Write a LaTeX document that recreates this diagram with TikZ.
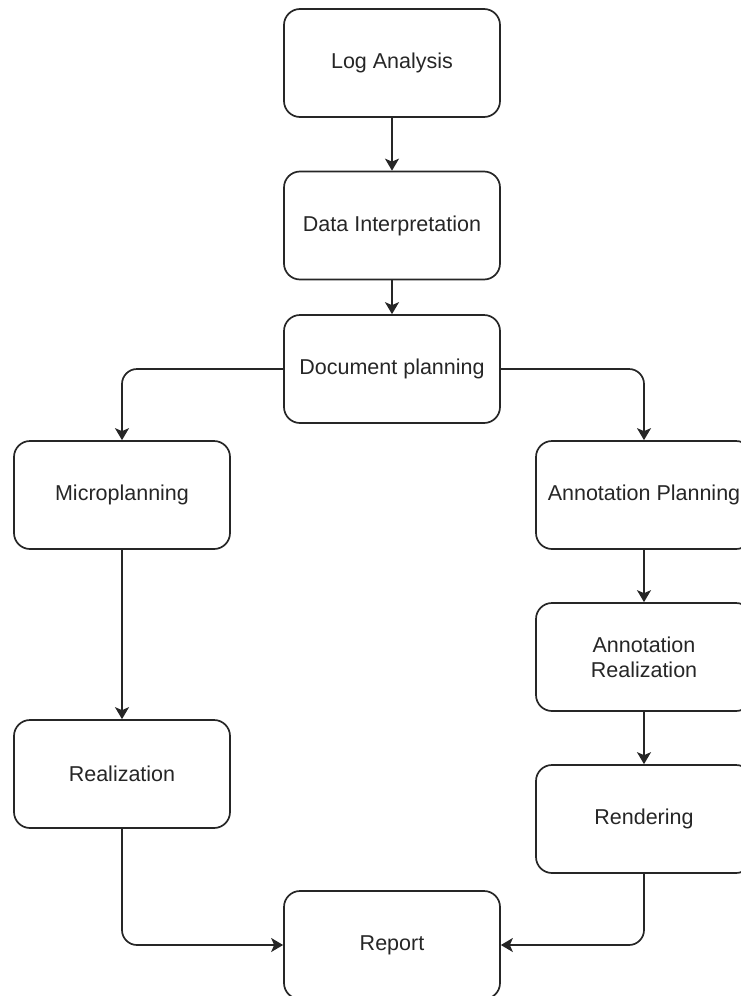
\documentclass[tikz,border=0pt]{standalone}
\usepackage{fontspec}
\setmainfont{Liberation Sans}
\usetikzlibrary{arrows.meta}
\definecolor{ink}{HTML}{262626}
\begin{document}
\begin{tikzpicture}[x=1pt, y=-1pt,
  stepbox/.style={draw=ink, line width=1.7pt, rectangle, rounded corners=16pt,
    minimum width=216pt, minimum height=108pt, text=ink, align=center,
    font=\fontsize{21.5}{25}\selectfont},
  flow/.style={draw=ink, line width=1.7pt, rounded corners=15pt,
    -{Stealth[length=12pt, width=14pt, inset=3pt]}}]
  \useasboundingbox (0,0) rectangle (741,996);
  % main column
  \node[stepbox] (log)    at (392,63)    {Log Analysis};
  \node[stepbox] (data)   at (392,225.5) {Data Interpretation};
  \node[stepbox] (doc)    at (392,369)   {Document planning};
  % left branch
  \node[stepbox] (micro)  at (122,495)   {Microplanning};
  \node[stepbox] (real)   at (122,774)   {Realization};
  % right branch
  \node[stepbox] (aplan)  at (644,495)   {Annotation Planning};
  \node[stepbox] (areal)  at (644,657)   {Annotation\\Realization};
  \node[stepbox] (render) at (644,819)   {Rendering};
  % output
  \node[stepbox] (report) at (392,945)   {Report};

  \draw[flow] (log) -- (data);
  \draw[flow] (data) -- (doc);
  \draw[flow] (doc.west) -| (micro.north);
  \draw[flow] (doc.east) -| (aplan.north);
  \draw[flow] (micro) -- (real);
  \draw[flow] (aplan) -- (areal);
  \draw[flow] (areal) -- (render);
  \draw[flow] (real.south) |- (report.west);
  \draw[flow] (render.south) |- (report.east);
\end{tikzpicture}
\end{document}
